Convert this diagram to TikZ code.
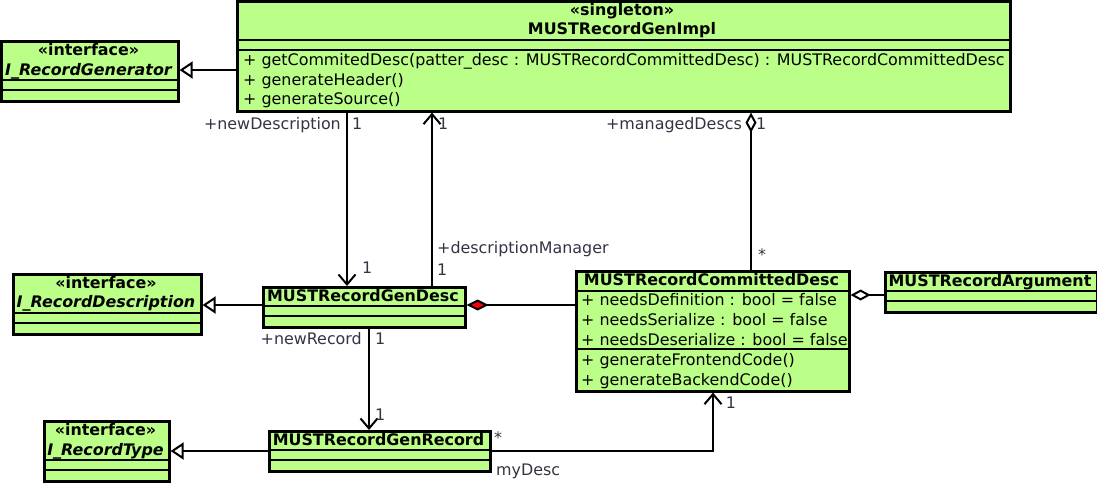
\documentclass[tikz,border=0pt]{standalone}
\usepackage{fontspec}
\setmainfont{DejaVu Sans}
\usetikzlibrary{arrows.meta}
\definecolor{umlgreen}{RGB}{187,255,136}
\definecolor{rolegray}{RGB}{51,51,68}

\begin{document}
\begin{tikzpicture}[x=1pt, y=-1pt,
  cls/.style={draw, fill=umlgreen, line width=2.6pt, anchor=north west, inner sep=0pt},
  sep/.style={line width=2.4pt},
  txt/.style={inner sep=0pt, text height=11.6pt, text depth=0pt, font=\fontsize{15.9}{19}\selectfont},
  title/.style={txt, font=\fontsize{15.9}{19}\selectfont\bfseries},
  iface/.style={txt, font=\fontsize{15.9}{19}\selectfont\bfseries\itshape},
  member/.style={txt, anchor=west},
  role/.style={txt, text=rolegray},
  conn/.style={line width=2pt},
  gener/.style={conn, -{Triangle[open, length=13pt, width=17pt, line width=2pt]}},
  assoc/.style={conn, -{Straight Barb[length=10pt, width=17pt, line width=2pt]}},
  aggr/.style={conn, -{Diamond[open, length=20pt, width=11pt, line width=2pt]}},
  compo/.style={conn, -{Diamond[fill=red, length=22pt, width=11pt, line width=2pt]}}]
\useasboundingbox (0,0) rectangle (1097,483);

% class boxes
\node[cls, minimum width=177pt, minimum height=60pt] (gen) at (0,40) {};
\node[cls, minimum width=773pt, minimum height=110pt] (impl) at (236,0) {};
\node[cls, minimum width=188pt, minimum height=60pt] (rdesc) at (12,273) {};
\node[cls, minimum width=202pt, minimum height=40pt] (desc) at (262,286) {};
\node[cls, minimum width=125pt, minimum height=60pt] (rtype) at (43,420) {};
\node[cls, minimum width=221pt, minimum height=40pt] (rec) at (268,430) {};
\node[cls, minimum width=273pt, minimum height=120pt] (comm) at (575,270) {};
\node[cls, minimum width=212pt, minimum height=40pt] (arg) at (884,271) {};

% compartments
\foreach \b/\d in {gen/40, gen/50, impl/40, impl/50, rdesc/40, rdesc/50,
                   desc/20, desc/30, rtype/40, rtype/50, rec/20, rec/30,
                   comm/21, comm/79, arg/20, arg/30}
  \draw[sep] ([yshift=-\d pt]\b.north west) -- ([yshift=-\d pt]\b.north east);

% texts
\node[title] (genS) at (88.5,50) {«interface»};
\node[iface] (genN) at (88.5,70) {I\_RecordGenerator};
\node[title] (implS) at (622,10) {«singleton»};
\node[title] (implN) at (622,29) {MUSTRecordGenImpl};
\node[member] (implO1) at (243,60) {+ getCommitedDesc(patter\_desc : MUSTRecordCommittedDesc) : MUSTRecordCommittedDesc};
\node[member] (implO2) at (243,80) {+ generateHeader()};
\node[member] (implO3) at (243,99) {+ generateSource()};
\node[title] (rdescS) at (106,283) {«interface»};
\node[iface] (rdescN) at (106,302) {I\_RecordDescription};
\node[title] (descN) at (363,296) {MUSTRecordGenDesc};
\node[title] (rtypeS) at (105.5,430) {«interface»};
\node[iface] (rtypeN) at (105.5,450) {I\_RecordType};
\node[title] (recN) at (378.5,440) {MUSTRecordGenRecord};
\node[title] (commN) at (711.5,280) {MUSTRecordCommittedDesc};
\node[member] (commA1) at (581,300) {+ needsDefinition : bool = false};
\node[member] (commA2) at (581,320) {+ needsSerialize : bool = false};
\node[member] (commA3) at (581,340) {+ needsDeserialize : bool = false};
\node[member] (commO1) at (581,360) {+ generateFrontendCode()};
\node[member] (commO2) at (581,380) {+ generateBackendCode()};
\node[title] (argN) at (990,281) {MUSTRecordArgument};

% helper columns and rows
\coordinate (cA) at (347,0);
\coordinate (cB) at (432,0);
\coordinate (cC) at (751,0);
\coordinate (cD) at (369,0);
\coordinate (cE) at (713,0);
\coordinate (rA) at (0,70);
\coordinate (rB) at (0,305);
\coordinate (rC) at (0,295);
\coordinate (rD) at (0,451);

% connectors
\draw[gener] (impl.west |- rA) -- (gen.east |- rA);
\draw[gener] (desc.west |- rB) -- (rdesc.east |- rB);
\draw[gener] (rec.west |- rD) -- (rtype.east |- rD);
\draw[assoc] (impl.south -| cA) -- (desc.north -| cA);
\draw[assoc] (desc.north -| cB) -- (impl.south -| cB);
\draw[assoc] (desc.south -| cD) -- (rec.north -| cD);
\draw[assoc] (rec.east |- rD) -| (comm.south -| cE);
\draw[aggr] (comm.north -| cC) -- (impl.south -| cC);
\draw[aggr] (arg.west |- rC) -- (comm.east |- rC);
\draw[compo] (comm.west |- rB) -- (desc.east |- rB);

% role names and multiplicities
\node[role, anchor=east] (rNewDesc) at (341,124) {+newDescription};
\node[role, anchor=west] (mNewDescA) at (352,124) {1};
\node[role, anchor=west] (mNewDescB) at (362,268) {1};
\node[role, anchor=west] (mMgrA) at (438,124) {1};
\node[role, anchor=west] (rMgr) at (437,248) {+descriptionManager};
\node[role, anchor=west] (mMgrB) at (437,270) {1};
\node[role, anchor=east] (rManaged) at (742,124) {+managedDescs};
\node[role, anchor=west] (mManagedA) at (756,124) {1};
\node[role] (mManagedB) at (762,255) {*};
\node[role, anchor=east] (rNewRec) at (362,339) {+newRecord};
\node[role, anchor=west] (mNewRecA) at (375,339) {1};
\node[role, anchor=west] (mNewRecB) at (375,415) {1};
\node[role] (mMyDescA) at (498,438) {*};
\node[role, anchor=west] (rMyDesc) at (496,470) {myDesc};
\node[role] (mMyDescB) at (731,403) {1};
\end{tikzpicture}
\end{document}
